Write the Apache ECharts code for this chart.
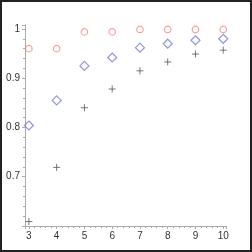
<!DOCTYPE html>
<html><head><meta charset="utf-8">
<script src="https://cdn.jsdelivr.net/npm/echarts@6/dist/echarts.min.js"></script>
<style>html,body{margin:0;padding:0;background:#fff}#c{width:248px;height:248px;border:2px solid #222;}</style>
</head><body><div id="c"></div>
<script>
const xs = [3, 4, 5, 6, 7, 8, 9, 10];
const circleVals = [0.960, 0.960, 0.994, 0.994, 0.999, 0.999, 0.999, 0.999];
const diamondVals = [0.804, 0.855, 0.925, 0.942, 0.962, 0.970, 0.977, 0.980];
const plusVals = [0.609, 0.719, 0.840, 0.878, 0.915, 0.933, 0.949, 0.957];
const xTicks = [3, 4, 5, 6, 7, 8, 9, 10];
const yTicks = [0.7, 0.8, 0.9, 1];

const chart = echarts.init(document.getElementById('c'), null, {renderer: 'canvas'});
const pair = v => xs.map((x, i) => [x, v[i]]);
const axisCol = '#aaa';
chart.setOption({
  animation: false,
  grid: {left: 23, right: 24, top: 23, bottom: 24, containLabel: false},
  xAxis: {
    type: 'value', min: 2.86, max: 10.1, splitNumber: 7,
    axisLine: {lineStyle: {color: axisCol}},
    axisTick: {show: true, length: 3, lineStyle: {color: axisCol}},
    minorTick: {show: true, splitNumber: 5, length: 2, lineStyle: {color: axisCol}},
    splitLine: {show: false},
    axisLabel: {color: '#333', fontSize: 10, fontFamily: 'Liberation Sans', margin: 5,
      formatter: v => (xTicks.some(t => Math.abs(t - v) < 1e-6) ? String(Math.round(v)) : '')},
    showMinLabel: false, showMaxLabel: false
  },
  yAxis: {
    type: 'value', min: 0.6, max: 1.008, interval: 0.1,
    axisLine: {show: true, lineStyle: {color: axisCol}},
    axisTick: {show: true, length: 3, lineStyle: {color: axisCol}},
    minorTick: {show: true, splitNumber: 5, length: 2, lineStyle: {color: axisCol}},
    splitLine: {show: false},
    axisLabel: {color: '#333', fontSize: 10, fontFamily: 'Liberation Sans', margin: 5,
      formatter: v => (yTicks.some(t => Math.abs(t - v) < 1e-6) ? (Math.abs(v-1)<1e-6 ? '1' : v.toFixed(1)) : '')},
    showMinLabel: false, showMaxLabel: false
  },
  series: [
    {type: 'scatter', data: pair(plusVals), symbol: 'path://M0,5L10,5M5,0L5,10', symbolSize: 7,
     itemStyle: {color: 'none', borderColor: '#555', borderWidth: 1}},
    {type: 'scatter', data: pair(diamondVals), symbol: 'diamond', symbolSize: [9, 9],
     itemStyle: {color: 'none', borderColor: '#7a7ad8', borderWidth: 1.2}},
    {type: 'scatter', data: pair(circleVals), symbol: 'circle', symbolSize: 6.5,
     itemStyle: {color: 'none', borderColor: '#f58a8a', borderWidth: 1.2}}
  ]
});
</script></body></html>
